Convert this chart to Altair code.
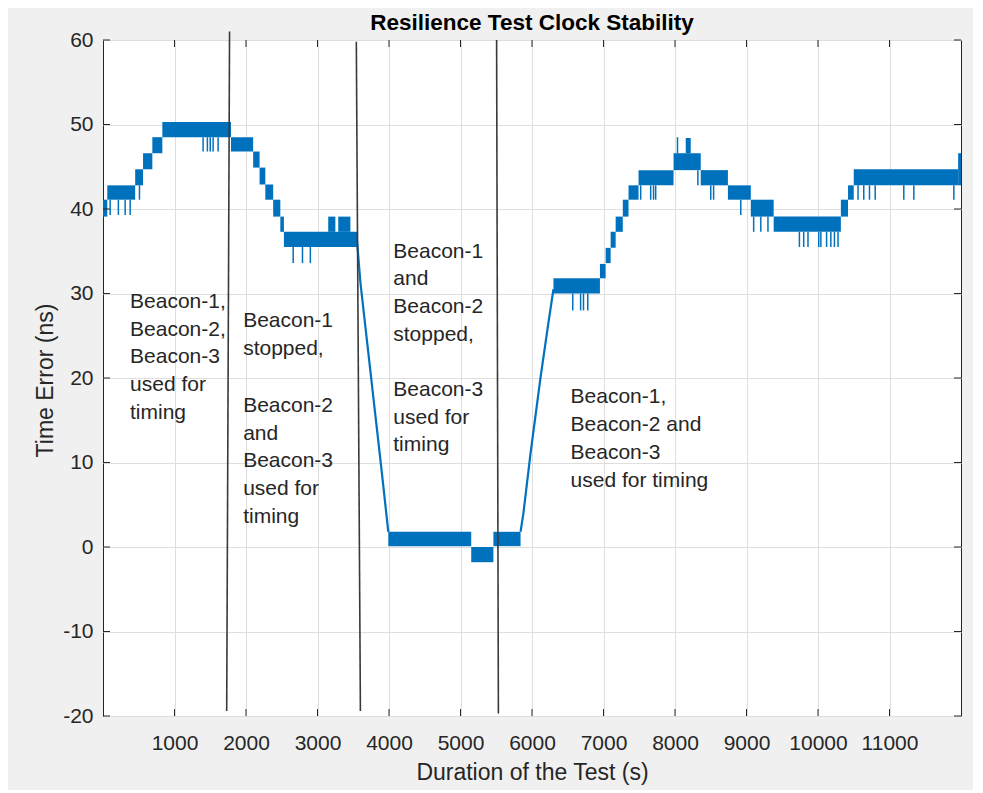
import altair as alt
import pandas as pd

FONT = "Liberation Sans"
BLUE = "#0072BD"

# Quantised time-error plateaus (thick blue bands): start, end, low, high
band_start = [0, 60, 450, 560, 690, 830, 1790, 2100, 2190, 2270, 2380, 2480, 2530, 3150, 3290,
              3990, 5150, 5460, 6300, 6950, 7030, 7100, 7170, 7270, 7350, 7490, 7980, 8150,
              8360, 8740, 9060, 9380, 10320, 10420, 10500, 11960]
band_end = [60, 450, 560, 690, 830, 1790, 2100, 2190, 2270, 2380, 2480, 2530, 3560, 3250, 3460,
            5150, 5460, 5840, 6950, 7030, 7100, 7170, 7270, 7350, 7490, 7980, 8360, 8220,
            8740, 9060, 9380, 10320, 10420, 10500, 11960, 12000]
band_low = [39.1, 41.1, 42.8, 44.7, 46.6, 48.5, 46.8, 44.9, 42.9, 41.1, 39.1, 37.3, 35.5, 37.3, 37.3,
            0.1, -1.8, 0.1, 30.0, 31.8, 33.6, 35.4, 37.3, 39.1, 41.1, 42.8, 44.6, 46.6,
            42.8, 41.1, 39.1, 37.3, 39.1, 41.1, 42.8, 42.8]
band_high = [41.1, 42.8, 44.7, 46.6, 48.5, 50.3, 48.5, 46.8, 44.9, 42.9, 41.1, 39.1, 37.3, 39.1, 39.1,
             1.8, 0.0, 1.8, 31.8, 33.5, 35.4, 37.3, 39.1, 41.1, 42.8, 44.6, 46.6, 48.4,
             44.6, 42.8, 41.1, 39.1, 41.1, 42.8, 44.7, 46.6]

# Short excursions (thin spikes): time, low, high
spike_t = [100, 215, 310, 380, 510, 1400, 1460, 1500, 1540, 1610, 2660, 2790, 2900,
           6570, 6680, 6720, 6780, 7520, 7660, 7700, 7730, 8320, 8500, 8540, 8920,
           9100, 9200, 9300, 9740, 9800, 9860, 10010, 10040, 10120, 10180, 10230, 10280,
           10560, 10640, 10720, 10800, 11200, 11340, 11900, 8035]
spike_low = [39.3, 39.3, 39.3, 39.3, 41.1, 46.8, 46.8, 46.8, 46.8, 46.8, 33.6, 33.6, 33.6,
             28.0, 28.0, 28.0, 28.0, 41.1, 41.1, 41.1, 41.1, 42.8, 41.1, 41.1, 39.3,
             37.3, 37.3, 37.3, 35.5, 35.5, 35.5, 35.5, 35.5, 35.5, 35.5, 35.5, 35.5,
             41.1, 41.1, 41.1, 41.1, 41.1, 41.1, 41.1, 46.6]
spike_high = [41.1, 41.1, 41.1, 41.1, 42.8, 48.5, 48.5, 48.5, 48.5, 48.5, 35.5, 35.5, 35.5,
              30.0, 30.0, 30.0, 30.0, 42.8, 42.8, 42.8, 42.8, 44.6, 42.8, 42.8, 41.1,
              39.1, 39.1, 39.1, 37.3, 37.3, 37.3, 37.3, 37.3, 37.3, 37.3, 37.3, 37.3,
              42.8, 42.8, 42.8, 42.8, 42.8, 42.8, 42.8, 48.5]

# Steep transitions drawn as lines
ramp_id = ["down"] * 6 + ["up"] * 6
ramp_t = [3550, 3600, 3700, 3800, 3900, 3990, 5840, 5880, 5980, 6120, 6220, 6300]
ramp_v = [36.5, 31.3, 23.8, 16.3, 8.8, 1.8, 1.8, 4.0, 11.1, 20.1, 26.0, 30.5]

# Event marker lines (slightly slanted, as drawn in the figure)
event_t_top = [1770, 3543, 5505]
event_t_bottom = [1730, 3600, 5530]
event_v_top = [61.0, 59.8, 60.0]
event_v_bottom = [-19.4, -19.4, -19.7]

# Annotation blocks
note_block_t = [378, 1960, 4060, 6539]
note_block_lines = [
    ["Beacon-1,", "Beacon-2,", "Beacon-3", "used for", "timing"],
    ["Beacon-1", "stopped,", "Beacon-2", "and", "Beacon-3", "used for", "timing"],
    ["Beacon-1", "and", "Beacon-2", "stopped,", "Beacon-3", "used for", "timing"],
    ["Beacon-1,", "Beacon-2 and", "Beacon-3", "used for timing"],
]
note_block_v = [
    [29.0, 25.7, 22.5, 19.2, 15.9],
    [26.7, 23.4, 16.7, 13.4, 10.2, 6.9, 3.6],
    [34.9, 31.7, 28.4, 25.1, 18.6, 15.3, 12.1],
    [17.8, 14.4, 11.1, 7.8],
]

x_ticks = [1000, 2000, 3000, 4000, 5000, 6000, 7000, 8000, 9000, 10000, 11000]
y_ticks = [-20, -10, 0, 10, 20, 30, 40, 50, 60]
x_domain = [0, 12000]
y_domain = [-20, 60]

W, H = 858, 676

bands = pd.DataFrame({"t0": band_start, "t1": band_end, "lo": band_low, "hi": band_high})
spikes = pd.DataFrame({"t": spike_t, "lo": spike_low, "hi": spike_high})
ramps = pd.DataFrame({"id": ramp_id, "t": ramp_t, "v": ramp_v})
events = pd.DataFrame({"ta": event_t_top, "tb": event_t_bottom,
                       "va": event_v_top, "vb": event_v_bottom})
rows = []
for bt, lines, vs in zip(note_block_t, note_block_lines, note_block_v):
    for ln, v in zip(lines, vs):
        rows.append({"t": bt, "v": v, "label": ln})
notes = pd.DataFrame(rows)
xt = pd.DataFrame({"t": x_ticks})
yt = pd.DataFrame({"v": y_ticks})

xs = alt.Scale(domain=x_domain, nice=False, zero=False)
ys = alt.Scale(domain=y_domain, nice=False, zero=False)

x_axis = alt.Axis(values=x_ticks, title="Duration of the Test (s)", grid=True,
                  gridColor="#dedede", gridWidth=1, ticks=False, tickSize=0, domain=False,
                  labelExpr="datum.value + ''",
                  labelFont=FONT, labelFontSize=21, labelColor="#262626", labelPadding=16,
                  titleFont=FONT, titleFontSize=23, titleFontWeight="normal", titleColor="#262626",
                  titleY=56, titleBaseline="middle", labelFlush=False)
y_axis = alt.Axis(values=y_ticks, title="Time Error (ns)", grid=True,
                  gridColor="#dedede", gridWidth=1, ticks=False, tickSize=0, domain=False,
                  labelExpr="datum.value + ''",
                  labelFont=FONT, labelFontSize=21, labelColor="#262626", labelPadding=10,
                  titleFont=FONT, titleFontSize=23, titleFontWeight="normal", titleColor="#262626",
                  titleX=-58, titleY=H / 2 + 2, titleBaseline="middle", labelFlush=False)

base_rect = alt.Chart(bands).mark_rect(color=BLUE).encode(
    x=alt.X("t0:Q", scale=xs, axis=x_axis),
    x2="t1:Q",
    y=alt.Y("lo:Q", scale=ys, axis=y_axis),
    y2="hi:Q",
)

spike_layer = alt.Chart(spikes).mark_rule(color=BLUE, strokeWidth=1.5).encode(
    x=alt.X("t:Q", scale=xs), y=alt.Y("lo:Q", scale=ys), y2="hi:Q")

ramp_layer = alt.Chart(ramps).mark_line(color=BLUE, strokeWidth=2.2).encode(
    x=alt.X("t:Q", scale=xs), y=alt.Y("v:Q", scale=ys), detail="id:N")

event_layer = alt.Chart(events).mark_rule(color="#3a3a3a", strokeWidth=1.6).encode(
    x=alt.X("ta:Q", scale=xs), x2="tb:Q", y=alt.Y("va:Q", scale=ys), y2="vb:Q")

note_layer = alt.Chart(notes).mark_text(
    align="left", baseline="middle", font=FONT, fontSize=21, color="#262626"
).encode(x=alt.X("t:Q", scale=xs), y=alt.Y("v:Q", scale=ys), text="label:N")

tick_col = "#262626"
tick_bottom = alt.Chart(xt).mark_rule(color=tick_col, strokeWidth=1).encode(
    x=alt.X("t:Q", scale=xs), y=alt.value(H), y2=alt.value(H - 7))
tick_top = alt.Chart(xt).mark_rule(color=tick_col, strokeWidth=1).encode(
    x=alt.X("t:Q", scale=xs), y=alt.value(0), y2=alt.value(7))
tick_left = alt.Chart(yt).mark_rule(color=tick_col, strokeWidth=1).encode(
    y=alt.Y("v:Q", scale=ys), x=alt.value(0), x2=alt.value(7))
tick_right = alt.Chart(yt).mark_rule(color=tick_col, strokeWidth=1).encode(
    y=alt.Y("v:Q", scale=ys), x=alt.value(W), x2=alt.value(W - 7))

chart = alt.layer(
    base_rect, spike_layer, ramp_layer, tick_bottom, tick_top, tick_left, tick_right,
    event_layer, note_layer
).properties(
    width=W, height=H,
    title=alt.TitleParams("Resilience Test Clock Stability", font=FONT, fontSize=22.5,
                          fontWeight="bold", color="#000000", anchor="middle",
                          frame="group", baseline="middle", offset=0, dy=16),
    background="#f0f0f0",
    padding={"left": 95, "top": 32, "right": 12, "bottom": 74},
    autosize=alt.AutoSizeParams(type="none"),
).configure_view(fill="white", stroke="#262626", strokeWidth=1)

chart.save("out.html", embed_options={"renderer": "svg", "actions": False})
